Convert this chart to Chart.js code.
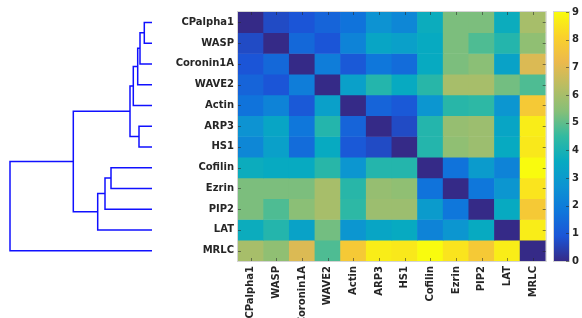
<!DOCTYPE html>
<html>
<head>
<meta charset="utf-8">
<script src="https://cdn.jsdelivr.net/npm/chart.js@4.4.1/dist/chart.umd.min.js"></script>
<style>
  body { margin: 0; background: #fff; width: 582px; height: 318px; overflow: hidden; position: relative; }
  canvas { position: absolute; top: 0; }
  #dendro { left: 0; }
  #heat { left: 150px; }
  #cbar { left: 550px; }
</style>
</head>
<body>
<canvas id="dendro" width="160" height="318"></canvas>
<canvas id="heat" width="400" height="318"></canvas>
<canvas id="cbar" width="32" height="318"></canvas>
<script>
// Nomes das proteínas (ordem do dendrograma)
const genes = ['CPalpha1', 'WASP', 'Coronin1A', 'WAVE2', 'Actin', 'ARP3', 'HS1',
    'Cofilin', 'Ezrin', 'PIP2', 'LAT', 'MRLC'];

// Matriz de distâncias
const distances = [
    [0.0, 0.7, 0.9, 1.3, 1.7, 2.7, 2.3, 3.7, 5.3, 5.3, 3.7, 6.0],
    [0.7, 0.0, 1.4, 0.9, 2.2, 3.4, 3.2, 3.6, 5.3, 4.8, 4.2, 5.6],
    [0.9, 1.4, 0.0, 2.0, 1.0, 1.8, 1.5, 3.6, 5.3, 5.5, 3.3, 6.9],
    [1.3, 0.9, 2.0, 0.0, 3.2, 4.2, 3.6, 4.3, 6.0, 6.0, 5.2, 4.8],
    [1.7, 2.2, 1.0, 3.2, 0.0, 1.3, 1.0, 2.8, 4.3, 4.4, 2.8, 7.8],
    [2.7, 3.4, 1.8, 4.2, 1.3, 0.0, 0.7, 4.2, 5.7, 5.8, 3.4, 8.7],
    [2.3, 3.2, 1.5, 3.6, 1.0, 0.7, 0.0, 4.2, 5.6, 5.8, 3.6, 8.6],
    [3.7, 3.6, 3.6, 4.3, 2.8, 4.2, 4.2, 0.0, 1.7, 3.0, 2.2, 9.0],
    [5.3, 5.3, 5.3, 6.0, 4.3, 5.7, 5.6, 1.7, 0.0, 1.8, 2.8, 8.5],
    [5.3, 4.8, 5.5, 6.0, 4.4, 5.8, 5.8, 3.0, 1.8, 0.0, 3.6, 7.8],
    [3.7, 4.2, 3.3, 5.2, 2.8, 3.4, 3.6, 2.2, 2.8, 3.6, 0.0, 8.7],
    [6.0, 5.6, 6.9, 4.8, 7.8, 8.7, 8.6, 9.0, 8.5, 7.8, 8.7, 0.0]
];

// Ligações do dendrograma (estilo linkage: folhas 0..11, clusters 12..)
const mergeA = [0, 12, 13, 14, 5, 15, 7, 18, 19, 17, 21];
const mergeB = [1, 2, 3, 4, 6, 16, 8, 9, 10, 20, 11];
const mergeHeight = [0.77, 1.2, 1.43, 1.87, 1.3, 2.2, 4.1, 4.7, 5.43, 7.87, 14.2];

// Escala da barra de cores
const colorMin = 0;
const colorMax = 9;
const colorTicks = [0, 1, 2, 3, 4, 5, 6, 7, 8, 9];

// Paleta parula (aproximada)
const parula = ['#352a87', '#1b55d7', '#0f77db', '#0d93d2', '#07aac1', '#32baa1',
    '#85bf78', '#b8bd63', '#ecb94c', '#fad12b', '#f9fb0e'];

function hexToRgb(h) {
    return [parseInt(h.slice(1, 3), 16), parseInt(h.slice(3, 5), 16), parseInt(h.slice(5, 7), 16)];
}

function corValor(v) {
    let t = (v - colorMin) / (colorMax - colorMin);
    t = Math.max(0, Math.min(1, t));
    const pos = t * (parula.length - 1);
    const i = Math.min(Math.floor(pos), parula.length - 2);
    const f = pos - i;
    const a = hexToRgb(parula[i]);
    const b = hexToRgb(parula[i + 1]);
    const c = a.map((x, k) => Math.round(x + (b[k] - x) * f));
    return `rgb(${c[0]},${c[1]},${c[2]})`;
}

const corTexto = '#262626';
const fonte = { family: 'DejaVu Sans', size: 10, weight: 'bold' };
const margemTopo = 12;
const margemBase = 57;
const semGrade = { display: false, drawTicks: false };

// Moldura cinza clara + pequenas marcas internas (estilo MATLAB)
const caixa = {
    id: 'caixa',
    afterDatasetsDraw(chart) {
        const { ctx, chartArea } = chart;
        const { left, right, top, bottom } = chartArea;
        ctx.save();
        ctx.strokeStyle = '#d4d4d4';
        ctx.lineWidth = 1;
        ctx.strokeRect(left - 0.5, top - 0.5, right - left + 1, bottom - top + 1);

        ctx.strokeStyle = 'rgba(38,38,38,0.55)';
        ctx.beginPath();
        const tam = 3;
        const sx = chart.scales.x;
        if (sx && sx.options.display !== false) {
            sx.ticks.forEach((t, i) => {
                const x = Math.round(sx.getPixelForTick(i)) + 0.5;
                ctx.moveTo(x, top); ctx.lineTo(x, top + tam);
                ctx.moveTo(x, bottom); ctx.lineTo(x, bottom - tam);
            });
        }
        const sy = chart.scales.y;
        sy.ticks.forEach((t) => {
            const y = Math.round(sy.getPixelForValue(t.value)) + 0.5;
            if (sx && sx.options.display !== false) {
                ctx.moveTo(left, y); ctx.lineTo(left + tam, y);
            }
            ctx.moveTo(right, y); ctx.lineTo(right - tam, y);
        });
        ctx.stroke();
        ctx.restore();
    }
};

// Dendrograma
function montarDendrograma() {
    const posY = genes.map((g, i) => i + 0.5);
    const alturaNo = genes.map(() => 0);
    const datasets = [];
    mergeA.forEach((a, k) => {
        const b = mergeB[k];
        const h = mergeHeight[k];
        datasets.push({
            data: [
                { x: alturaNo[a], y: posY[a] },
                { x: h, y: posY[a] },
                { x: h, y: posY[b] },
                { x: alturaNo[b], y: posY[b] }
            ],
            showLine: true,
            borderColor: '#1010ff',
            borderWidth: 1.5,
            pointRadius: 0,
            clip: false
        });
        posY.push((posY[a] + posY[b]) / 2);
        alturaNo.push(h);
    });

    new Chart(document.getElementById('dendro'), {
        type: 'scatter',
        data: { datasets },
        options: {
            responsive: false,
            animation: false,
            devicePixelRatio: 1,
            layout: { padding: { left: 10, right: 8, top: margemTopo, bottom: margemBase } },
            plugins: { legend: { display: false }, tooltip: { enabled: false } },
            scales: {
                x: { type: 'linear', reverse: true, min: 0, max: mergeHeight[mergeHeight.length - 1], display: false },
                y: { type: 'linear', reverse: true, min: 0, max: genes.length, display: false }
            }
        }
    });
}

// Mapa de calor
function montarMapa() {
    const datasets = distances.map((linha, i) => ({
        label: genes[i],
        data: linha.map(() => [i, i + 1]),
        backgroundColor: linha.map(corValor),
        borderWidth: 0,
        borderSkipped: false,
        grouped: false,
        barPercentage: 1,
        categoryPercentage: 1
    }));

    new Chart(document.getElementById('heat'), {
        type: 'bar',
        data: { labels: genes, datasets },
        options: {
            responsive: false,
            animation: false,
            devicePixelRatio: 1,
            layout: { padding: { left: 0, right: 2, top: margemTopo, bottom: 0 } },
            plugins: { legend: { display: false }, tooltip: { enabled: false } },
            scales: {
                x: {
                    type: 'category',
                    grid: semGrade,
                    border: { display: false },
                    ticks: { color: corTexto, font: fonte, maxRotation: 90, minRotation: 90, padding: 5, autoSkip: false },
                    afterFit: (s) => { s.height = margemBase; }
                },
                y: {
                    type: 'linear',
                    reverse: true,
                    min: 0,
                    max: genes.length,
                    grid: semGrade,
                    border: { display: false },
                    afterBuildTicks: (s) => { s.ticks = genes.map((g, i) => ({ value: i + 0.5 })); },
                    ticks: { color: corTexto, font: fonte, padding: 4, callback: (v) => genes[Math.floor(v)] },
                    afterFit: (s) => { s.width = 88; }
                }
            }
        },
        plugins: [caixa]
    });
}

// Barra de cores
function montarBarraCores() {
    new Chart(document.getElementById('cbar'), {
        type: 'bar',
        data: {
            labels: [''],
            datasets: [{
                data: [[colorMin, colorMax]],
                backgroundColor: (c) => {
                    const { ctx, chartArea } = c.chart;
                    if (!chartArea) return parula[0];
                    const g = ctx.createLinearGradient(0, chartArea.bottom, 0, chartArea.top);
                    parula.forEach((cor, i) => g.addColorStop(i / (parula.length - 1), cor));
                    return g;
                },
                borderWidth: 0,
                borderSkipped: false,
                barPercentage: 1,
                categoryPercentage: 1
            }]
        },
        options: {
            responsive: false,
            animation: false,
            devicePixelRatio: 1,
            layout: { padding: { left: 4, right: 0, top: margemTopo, bottom: margemBase } },
            plugins: { legend: { display: false }, tooltip: { enabled: false } },
            scales: {
                x: { display: false },
                y: {
                    position: 'right',
                    min: colorMin,
                    max: colorMax,
                    grid: semGrade,
                    border: { display: false },
                    afterBuildTicks: (s) => { s.ticks = colorTicks.map(v => ({ value: v })); },
                    ticks: { color: corTexto, font: fonte, padding: 3 },
                    afterFit: (s) => { s.width = 13; }
                }
            }
        },
        plugins: [caixa]
    });
}

montarDendrograma();
montarMapa();
montarBarraCores();
</script>
</body>
</html>
